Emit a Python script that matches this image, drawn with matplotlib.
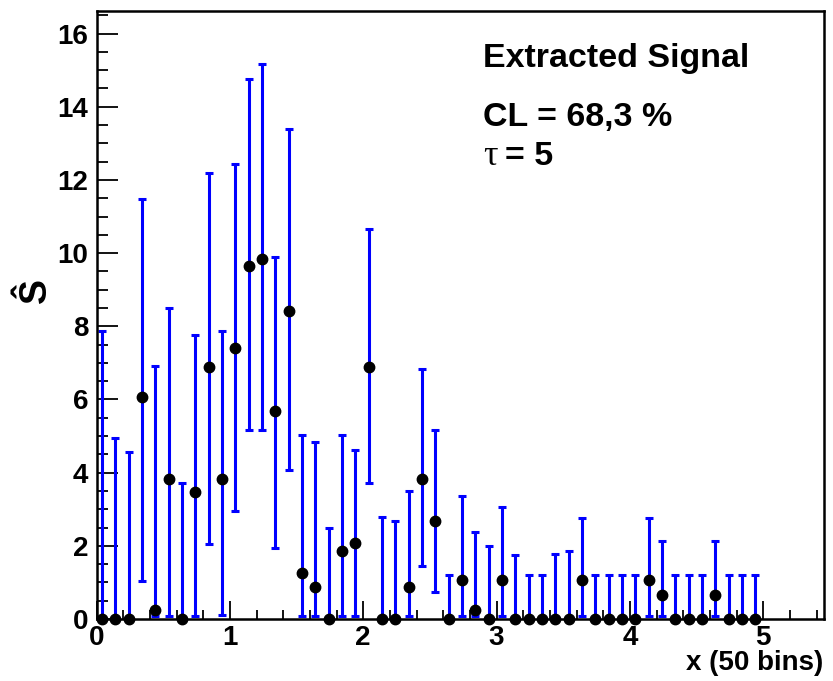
import numpy as np
import matplotlib
matplotlib.use("Agg")
import matplotlib.pyplot as plt
from matplotlib.ticker import MultipleLocator

plt.rcParams['font.family'] = ['Liberation Sans', 'DejaVu Sans']
plt.rcParams['font.weight'] = 'bold'

# bin positions (50 bins on 0..5)
x = [0.04 + 0.1 * i for i in range(50)]

values = [0, 0, 0, 6.06, 0.25, 3.84, 0, 3.48, 6.88, 3.84,
          7.42, 9.66, 9.84, 5.68, 8.42, 1.27, 0.87, 0, 1.87, 2.07,
          6.88, 0, 0, 0.87, 3.84, 2.68, 0, 1.08, 0.25, 0,
          1.08, 0, 0, 0, 0, 0, 1.07, 0, 0, 0,
          0, 1.07, 0.65, 0, 0, 0, 0.65, 0, 0, 0]

upper = [7.87, 4.96, 4.57, 11.48, 6.91, 8.49, 3.71, 7.75, 12.19, 7.87,
         12.44, 14.76, 15.18, 9.90, 13.40, 5.04, 4.83, 2.50, 5.04, 4.62,
         10.65, 2.80, 2.68, 3.51, 6.82, 5.16, 1.20, 3.37, 2.38, 2.00,
         3.07, 1.75, 1.20, 1.20, 1.77, 1.86, 2.75, 1.20, 1.20, 1.20,
         1.20, 2.75, 2.14, 1.20, 1.20, 1.20, 2.14, 1.20, 1.20, 1.20]

lower = [0, 0, 0, 1.05, 0.08, 0.08, 0, 0.08, 2.04, 0.12,
         2.96, 5.16, 5.16, 1.95, 4.07, 0.08, 0.08, 0, 0.08, 0.08,
         3.73, 0, 0, 0.08, 1.46, 0.75, 0, 0.08, 0.08, 0,
         0.08, 0, 0, 0, 0, 0, 0.08, 0, 0, 0,
         0, 0.08, 0.08, 0, 0, 0, 0.08, 0, 0, 0]

xv = np.array(x)
v = np.array(values)
up = np.array(upper)
lo = np.array(lower)

fig = plt.figure(figsize=(8.33, 6.81), dpi=100)
ax = fig.add_axes([0.116, 0.091, 0.873, 0.893])

ax.errorbar(xv, v, yerr=[v - lo, up - v], fmt='none', ecolor='#0000ff',
            elinewidth=2.2, capsize=2.6, capthick=2.2, zorder=2)
ax.plot(xv, v, 'o', color='black', markersize=7.5, zorder=3, clip_on=False)

ax.set_xlim(0, 5.455)
ax.set_ylim(0, 16.62)

ax.xaxis.set_major_locator(MultipleLocator(1))
ax.xaxis.set_minor_locator(MultipleLocator(0.2))
ax.yaxis.set_major_locator(MultipleLocator(2))
ax.yaxis.set_minor_locator(MultipleLocator(0.5))

ax.tick_params(axis='both', which='both', direction='in', top=False, right=False,
               colors='black', width=1.3)
ax.tick_params(axis='y', which='major', length=15, labelsize=20, pad=6)
ax.tick_params(axis='y', which='minor', length=8)
ax.tick_params(axis='x', which='major', length=13, labelsize=20, pad=4)
ax.tick_params(axis='x', which='minor', length=6.5)
for lab in ax.get_xticklabels() + ax.get_yticklabels():
    lab.set_fontweight('bold')

for s in ax.spines.values():
    s.set_linewidth(1.8)

fig.text(823 / 833, 1 - 670 / 681, 'x (50 bins)', fontsize=20, fontweight='bold',
         ha='right', va='baseline')

ax.set_ylabel('Ŝ', fontsize=27, fontweight='bold', rotation=90)
ax.yaxis.set_label_coords(-0.058, 0.54)

fig.text(483 / 833, 1 - 67 / 681, 'Extracted Signal', fontsize=24.5, fontweight='bold',
         ha='left', va='baseline')
fig.text(483 / 833, 1 - 126 / 681, 'CL = 68,3 %', fontsize=24.5, fontweight='bold',
         ha='left', va='baseline')
fig.text(483 / 833, 1 - 165 / 681, 'τ', fontsize=26, family='Liberation Serif',
         fontweight='normal', ha='left', va='baseline')
fig.text(505 / 833, 1 - 165 / 681, '= 5', fontsize=24.5, fontweight='bold',
         ha='left', va='baseline')

fig.savefig('out.png', dpi=100)
